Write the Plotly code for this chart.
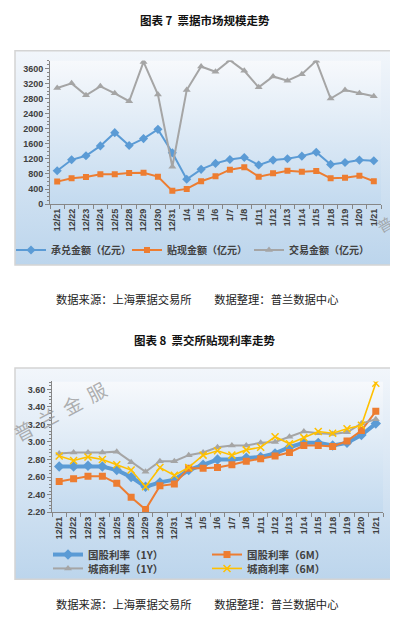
import base64
import plotly.graph_objects as go

W, H = 398, 617

dates = ["12/21", "12/22", "12/23", "12/24", "12/25", "12/28", "12/29", "12/30", "12/31",
         "1/4", "1/5", "1/6", "1/7", "1/8", "1/11", "1/12", "1/13", "1/14", "1/15",
         "1/18", "1/19", "1/20", "1/21"]

# Chart 7: market scale (亿元)
acceptance = [887, 1176, 1282, 1545, 1896, 1554, 1738, 1984, 1361,
              658, 922, 1080, 1185, 1238, 1036, 1168, 1203, 1273, 1378,
              1054, 1106, 1168, 1150]
discount = [597, 685, 720, 790, 790, 825, 834, 729, 351,
            404, 606, 737, 913, 975, 729, 816, 887, 860, 878,
            685, 702, 755, 606]
trading = [3082, 3205, 2889, 3126, 2941, 2730, 3775, 2906, 990,
           3029, 3652, 3512, 3819, 3538, 3099, 3389, 3275, 3450, 3802,
           2801, 3029, 2941, 2862]

# Chart 8: discount rates (%)
gg_1y = [2.72, 2.72, 2.73, 2.72, 2.68, 2.60, 2.49, 2.54, 2.57,
         2.68, 2.74, 2.80, 2.80, 2.82, 2.83, 2.87, 2.94, 2.99, 2.99,
         2.96, 2.99, 3.08, 3.21]
gg_6m = [2.55, 2.58, 2.61, 2.61, 2.53, 2.37, 2.23, 2.50, 2.52,
         2.70, 2.70, 2.71, 2.74, 2.78, 2.81, 2.84, 2.88, 2.96, 2.96,
         2.95, 3.01, 3.13, 3.35]
cs_1y = [2.87, 2.88, 2.88, 2.88, 2.89, 2.77, 2.66, 2.78, 2.78,
         2.85, 2.88, 2.94, 2.96, 2.96, 2.99, 3.00, 3.06, 3.12, 3.10,
         3.09, 3.11, 3.21, 3.26]
cs_6m = [2.84, 2.79, 2.83, 2.80, 2.74, 2.68, 2.49, 2.71, 2.62,
         2.71, 2.85, 2.90, 2.85, 2.91, 2.94, 3.06, 2.98, 3.05, 3.12,
         3.10, 3.15, 3.19, 3.67]

ticks1 = [0, 400, 800, 1200, 1600, 2000, 2400, 2800, 3200, 3600]
ticks2 = [2.20, 2.40, 2.60, 2.80, 3.00, 3.20, 3.40, 3.60]

BLUE, ORANGE, GRAY, YELLOW = "#5b9bd5", "#ed7d31", "#a5a5a5", "#ffc000"
CJK = "Noto Sans CJK SC"
NUM = "Liberation Sans, Noto Sans CJK SC"
TXT = "#404040"


def px_x(v):
    return v / W


def px_y(v):
    return 1 - v / H


def grad(top, bottom):
    svg = ('<svg xmlns="http://www.w3.org/2000/svg" width="100" height="100" preserveAspectRatio="none">'
           '<defs><linearGradient id="g" x1="0" y1="0" x2="0" y2="1">'
           f'<stop offset="0" stop-color="{top}"/><stop offset="1" stop-color="{bottom}"/>'
           '</linearGradient></defs><rect width="100" height="100" fill="url(#g)"/></svg>')
    return "data:image/svg+xml;base64," + base64.b64encode(svg.encode()).decode()


fig = go.Figure()

# chart 7 traces
fig.add_trace(go.Scatter(x=dates, y=acceptance, name="承兑金额（亿元）", mode="lines+markers",
                         line=dict(color=BLUE, width=2), marker=dict(symbol="diamond", size=7, color=BLUE),
                         xaxis="x", yaxis="y", legend="legend"))
fig.add_trace(go.Scatter(x=dates, y=discount, name="贴现金额（亿元）", mode="lines+markers",
                         line=dict(color=ORANGE, width=2), marker=dict(symbol="square", size=6, color=ORANGE),
                         xaxis="x", yaxis="y", legend="legend2"))
fig.add_trace(go.Scatter(x=dates, y=trading, name="交易金额（亿元）", mode="lines+markers",
                         line=dict(color=GRAY, width=2), marker=dict(symbol="triangle-up", size=7, color=GRAY),
                         xaxis="x", yaxis="y", legend="legend3"))

# chart 8 traces
fig.add_trace(go.Scatter(x=dates, y=gg_1y, name="国股利率（1Y）", mode="lines+markers",
                         line=dict(color=BLUE, width=4), marker=dict(symbol="diamond", size=8, color=BLUE),
                         xaxis="x2", yaxis="y2", legend="legend4"))
fig.add_trace(go.Scatter(x=dates, y=gg_6m, name="国股利率（6M）", mode="lines+markers",
                         line=dict(color=ORANGE, width=2), marker=dict(symbol="square", size=7, color=ORANGE),
                         xaxis="x2", yaxis="y2", legend="legend5"))
fig.add_trace(go.Scatter(x=dates, y=cs_1y, name="城商利率（1Y）", mode="lines+markers",
                         line=dict(color=GRAY, width=2), marker=dict(symbol="triangle-up", size=7, color=GRAY),
                         xaxis="x2", yaxis="y2", legend="legend6"))
fig.add_trace(go.Scatter(x=dates, y=cs_6m, name="城商利率（6M）", mode="lines+markers",
                         line=dict(color=YELLOW, width=1.6), marker=dict(symbol="x-thin", size=7, color=YELLOW,
                                                                         line=dict(color=YELLOW, width=1.5)),
                         xaxis="x2", yaxis="y2", legend="legend7"))

axis_common = dict(showline=True, linecolor="#868686", linewidth=1, showgrid=False, zeroline=False,
                   ticks="outside", tickcolor="#868686", ticklen=4,
                   tickfont=dict(family=NUM, size=9, color=TXT, weight="bold"))


def leg(xpx, ypx, size):
    return dict(orientation="h", xanchor="left", yanchor="middle", bgcolor="rgba(0,0,0,0)",
                itemwidth=30, x=px_x(xpx), y=px_y(ypx),
                font=dict(family=CJK, size=size, color=TXT, weight="bold"))


fig.update_layout(
    width=W, height=H, margin=dict(l=0, r=0, t=0, b=0),
    paper_bgcolor="white", plot_bgcolor="rgba(0,0,0,0)", showlegend=True,
    xaxis=dict(domain=[px_x(42), px_x(373)], anchor="y", type="category",
               tickangle=-90, tickson="boundaries", range=[-0.5, 22.5], **axis_common),
    yaxis=dict(domain=[px_y(197.7), px_y(53)], anchor="x", range=[0, 3810], tickvals=ticks1,
               minor=dict(dtick=100, ticks="outside", ticklen=2, tickcolor="#868686"), **axis_common),
    xaxis2=dict(domain=[px_x(44), px_x(375)], anchor="y2", type="category",
                tickangle=-90, tickson="boundaries", range=[-0.5, 22.5], **axis_common),
    yaxis2=dict(domain=[px_y(508.3), px_y(376.5)], anchor="x2", range=[2.2, 3.69], tickvals=ticks2,
                tickformat=".2f",
                minor=dict(dtick=0.04, ticks="outside", ticklen=2, tickcolor="#868686"), **axis_common),
    legend=leg(3, 244, 10),
    legend2=leg(119, 244, 10),
    legend3=leg(241, 244, 10),
    legend4=leg(40, 551, 10.5),
    legend5=leg(199, 551, 10.5),
    legend6=leg(40, 565, 10.5),
    legend7=leg(199, 565, 10.5),
)

# background panels (gradient boxes + plot-area gradients)
images = [
    dict(source=grad("#f2f6fb", "#bcd5ec"), xref="paper", yref="paper", x=px_x(7), y=px_y(43),
         sizex=px_x(381), sizey=216 / H, sizing="stretch", layer="below"),
    dict(source=grad("#f7f9fc", "#c3daef"), xref="paper", yref="paper", x=px_x(42), y=px_y(53),
         sizex=px_x(331), sizey=145 / H, sizing="stretch", layer="below"),
    dict(source=grad("#f2f6fb", "#bcd5ec"), xref="paper", yref="paper", x=px_x(7), y=px_y(363),
         sizex=px_x(381), sizey=213 / H, sizing="stretch", layer="below"),
    dict(source=grad("#f7f9fc", "#c3daef"), xref="paper", yref="paper", x=px_x(44), y=px_y(376.5),
         sizex=px_x(331), sizey=132 / H, sizing="stretch", layer="below"),
]
fig.update_layout(images=images)

fig.add_shape(type="rect", xref="paper", yref="paper", x0=px_x(7), x1=px_x(388), y0=px_y(259), y1=px_y(43),
              line=dict(color="#d4d4d4", width=1.5), fillcolor="rgba(0,0,0,0)")
fig.add_shape(type="rect", xref="paper", yref="paper", x0=px_x(7), x1=px_x(388), y0=px_y(576), y1=px_y(363),
              line=dict(color="#d4d4d4", width=1.5), fillcolor="rgba(0,0,0,0)")

SRC = "数据来源：上海票据交易所\u3000\u3000数据整理：普兰数据中心"
ann = [
    dict(text="<b>图表 7  票据市场规模走势</b>", x=px_x(197), y=px_y(12), font=dict(family=CJK, size=11.5, color="#111")),
    dict(text=SRC, x=px_x(189), y=px_y(293), font=dict(family=CJK, size=11.3, color="#222")),
    dict(text="<b>图表 8  票交所贴现利率走势</b>", x=px_x(197), y=px_y(335), font=dict(family=CJK, size=11.5, color="#111")),
    dict(text=SRC, x=px_x(189), y=px_y(601), font=dict(family=CJK, size=11.3, color="#222")),
    dict(text="普  兰  金  服", x=px_x(52), y=px_y(406), textangle=-28,
         font=dict(family=CJK, size=19, color="rgba(150,150,150,0.75)")),
    dict(text="普", x=px_x(376), y=px_y(218), textangle=-30,
         font=dict(family=CJK, size=15, color="rgba(150,150,150,0.75)")),
]
for a in ann:
    fig.add_annotation(xref="paper", yref="paper", showarrow=False, xanchor="center", yanchor="middle", **a)

fig.write_html("out.html")
